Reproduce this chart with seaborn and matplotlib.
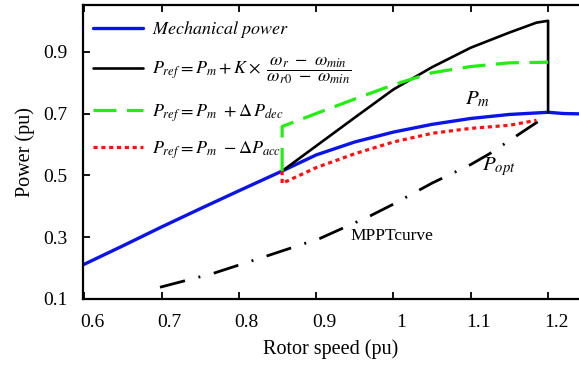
import matplotlib
matplotlib.use("Agg")
import matplotlib.pyplot as plt
import seaborn as sns
import pandas as pd
from matplotlib.transforms import ScaledTranslation

# ---- data ----
speed_mech = [0.598, 0.65, 0.70, 0.75, 0.80, 0.856, 0.90, 0.95, 1.00, 1.05, 1.10, 1.15, 1.20, 1.22, 1.24]
power_mech = [0.210, 0.272, 0.333, 0.392, 0.450, 0.514, 0.566, 0.608, 0.640, 0.665, 0.684, 0.697, 0.704, 0.700, 0.699]

speed_k = [0.856, 0.90, 0.95, 1.00, 1.05, 1.10, 1.15, 1.185, 1.20, 1.20]
power_k = [0.514, 0.595, 0.687, 0.778, 0.850, 0.913, 0.962, 0.994, 1.000, 0.704]

speed_dec = [0.856, 0.856, 0.90, 0.95, 1.00, 1.05, 1.10, 1.15, 1.20]
power_dec = [0.514, 0.658, 0.700, 0.747, 0.793, 0.832, 0.852, 0.864, 0.866]

speed_acc = [0.856, 0.856, 0.90, 0.95, 1.00, 1.05, 1.10, 1.15, 1.185]
power_acc = [0.514, 0.474, 0.525, 0.570, 0.608, 0.636, 0.652, 0.662, 0.678]

speed_opt = [0.698, 0.767, 0.836, 0.905, 0.970, 1.000, 1.050, 1.100, 1.125, 1.187]
power_opt = [0.138, 0.183, 0.239, 0.296, 0.369, 0.407, 0.475, 0.535, 0.571, 0.674]

xticks = [0.6, 0.7, 0.8, 0.9, 1.0, 1.1, 1.2]
xtick_labels = ["0.6", "0.7", "0.8", "0.9", "1", "1.1", "1.2"]
yticks = [0.1, 0.3, 0.5, 0.7, 0.9]
ytick_labels = ["0.1", "0.3", "0.5", "0.7", "0.9"]

labels = [
    r"$Mechanical\ power$",
    r"$P_{ref}=P_m+K\times\ \dfrac{\omega_r\ -\ \omega_{min}}{\omega_{r0}\ -\ \omega_{min}}$",
    r"$P_{ref}=P_m\ +\Delta\, P_{dec}$",
    r"$P_{ref}=P_m\ -\mathit{\Delta} P_{acc}$",
]

# ---- style ----
sns.set_theme(style="ticks")
plt.rcParams["font.family"] = ["Liberation Serif", "DejaVu Serif"]
plt.rcParams["mathtext.fontset"] = "stix"
plt.rcParams["text.color"] = "black"
plt.rcParams["axes.labelcolor"] = "black"
plt.rcParams["xtick.color"] = "black"
plt.rcParams["ytick.color"] = "black"

fig = plt.figure(figsize=(5.79, 3.67), dpi=100)
ax = fig.add_axes([0.1428, 0.1853, 0.8572, 0.801])

df_mech = pd.DataFrame({"w": speed_mech, "p": power_mech})
df_k = pd.DataFrame({"w": speed_k, "p": power_k})
df_dec = pd.DataFrame({"w": speed_dec, "p": power_dec})
df_acc = pd.DataFrame({"w": speed_acc, "p": power_acc})
df_opt = pd.DataFrame({"w": speed_opt, "p": power_opt})

sns.lineplot(data=df_opt, x="w", y="p", ax=ax, sort=False, estimator=None,
             color="black", lw=2.0, linestyle=(0, (9.3, 5.0, 0.7, 5.0)),
             label="_nolegend_")
sns.lineplot(data=df_mech, x="w", y="p", ax=ax, sort=False, estimator=None,
             color="#0a14e6", lw=2.4, label=labels[0])
sns.lineplot(data=df_k, x="w", y="p", ax=ax, sort=False, estimator=None,
             color="black", lw=1.9, label=labels[1])
sns.lineplot(data=df_dec, x="w", y="p", ax=ax, sort=False, estimator=None,
             color="#22ee11", lw=2.3, linestyle=(0, (7.2, 3.3)), label=labels[2])
sns.lineplot(data=df_acc, x="w", y="p", ax=ax, sort=False, estimator=None,
             color="#ff1010", lw=2.3, linestyle=(0, (1.3, 1.15)), label=labels[3])

# annotations
ax.text(1.093, 0.745, r"$P_m$", fontsize=15, va="center", ha="left")
ax.text(1.115, 0.528, r"$P_{opt}$", fontsize=15, va="center", ha="left")
ax.text(0.945, 0.304, "MPPTcurve", fontsize=12.5, va="center", ha="left")

# axes
ax.set_xlim(0.598, 1.240)
ax.set_ylim(0.1, 1.051)
ax.set_xticks(xticks)
ax.set_xticklabels(xtick_labels)
ax.set_yticks(yticks)
ax.set_yticklabels(ytick_labels)
ax.tick_params(direction="in", top=True, length=5, width=1.3, labelsize=14, pad=11)
for side in ["left", "bottom", "top"]:
    ax.spines[side].set_linewidth(1.6)
    ax.spines[side].set_color("black")
ax.spines["right"].set_visible(False)

off = ScaledTranslation(8 / 100, 0, fig.dpi_scale_trans)
for t in ax.xaxis.get_major_ticks():
    t.label1.set_transform(t.label1.get_transform() + off)

ax.set_xlabel("Rotor speed (pu)", fontsize=14.5, labelpad=6)
ax.set_ylabel("Power (pu)", fontsize=14.5, labelpad=6)

ax.legend(loc="upper left", bbox_to_anchor=(0.0, 0.986), frameon=False, fontsize=13,
          handlelength=2.8, handletextpad=0.5, borderaxespad=0.15, borderpad=0.4,
          labelspacing=0.87)

fig.savefig("out.png", dpi=100)
